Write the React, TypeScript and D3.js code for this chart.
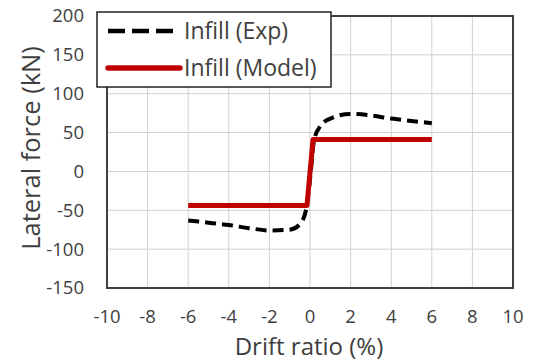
import { useRef, useEffect } from 'react';
import * as d3 from 'd3';

const xTicks = [-10, -8, -6, -4, -2, 0, 2, 4, 6, 8, 10];
const yTicks = [-150, -100, -50, 0, 50, 100, 150, 200];

const expDrift = [-6, -5, -4, -3, -2, -1, -0.5, -0.2, 0, 0.2, 0.5, 1, 2, 3, 4, 5, 6];
const expForce = [-63, -66, -69, -73, -76, -75, -68, -50, -10, 40, 58, 68, 74, 72, 68, 65, 62];

const modelDrift = [-6, -0.15, 0.15, 6];
const modelForce = [-44, -44, 41, 41];

const seriesNames = ['Infill (Exp)', 'Infill (Model)'];

export default function App() {
    const ref = useRef<HTMLDivElement>(null);

    useEffect(() => {
        if (!ref.current) return;
        document.body.style.margin = '0';

        const w = 536;
        const h = 363;
        const font = '"Open Sans", "Liberation Sans", sans-serif';
        d3.select(ref.current).selectAll('*').remove();
        const svg = d3
            .select(ref.current)
            .append('svg')
            .attr('width', w)
            .attr('height', h)
            .style('display', 'block')
            .style('background', '#fff');

        const x = d3.scaleLinear().domain([-10, 10]).range([107, 513]);
        const y = d3.scaleLinear().domain([-150, 200]).range([288, 16]);

        // grid
        const grid = svg.append('g').attr('stroke', '#d0d0d0').attr('stroke-width', 1);
        xTicks.forEach((t) => {
            grid.append('line').attr('x1', x(t)).attr('x2', x(t)).attr('y1', y(200)).attr('y2', y(-150));
        });
        yTicks.forEach((t) => {
            grid.append('line').attr('x1', x(-10)).attr('x2', x(10)).attr('y1', y(t)).attr('y2', y(t));
        });

        // plot border
        svg
            .append('rect')
            .attr('x', x(-10))
            .attr('y', y(200))
            .attr('width', x(10) - x(-10))
            .attr('height', y(-150) - y(200))
            .attr('fill', 'none')
            .attr('stroke', '#404040')
            .attr('stroke-width', 2);

        const expLine = d3
            .line<number>()
            .x((d) => x(expDrift[d]))
            .y((d) => y(expForce[d]))
            .curve(d3.curveMonotoneX);
        const modelLine = d3
            .line<number>()
            .x((d) => x(modelDrift[d]))
            .y((d) => y(modelForce[d]));

        svg
            .append('path')
            .attr('d', expLine(d3.range(expDrift.length)))
            .attr('fill', 'none')
            .attr('stroke', '#000')
            .attr('stroke-width', 4)
            .attr('stroke-dasharray', '11,6');

        svg
            .append('path')
            .attr('d', modelLine(d3.range(modelDrift.length)))
            .attr('fill', 'none')
            .attr('stroke', '#c00000')
            .attr('stroke-width', 5)
            .attr('stroke-linejoin', 'round');

        // tick labels
        svg
            .append('g')
            .selectAll('text')
            .data(xTicks)
            .join('text')
            .attr('x', (d) => x(d))
            .attr('y', 317)
            .attr('dy', '0.35em')
            .attr('text-anchor', 'middle')
            .attr('font-family', font)
            .attr('font-size', 18.5)
            .attr('fill', '#404040')
            .text((d) => d);

        svg
            .append('g')
            .selectAll('text')
            .data(yTicks)
            .join('text')
            .attr('x', 84)
            .attr('y', (d) => y(d))
            .attr('dy', '0.35em')
            .attr('text-anchor', 'end')
            .attr('font-family', font)
            .attr('font-size', 18.5)
            .attr('fill', '#404040')
            .text((d) => d);

        // axis titles
        svg
            .append('text')
            .attr('x', 309)
            .attr('y', 347)
            .attr('dy', '0.35em')
            .attr('text-anchor', 'middle')
            .attr('font-family', font)
            .attr('font-size', 24)
            .attr('fill', '#404040')
            .text('Drift ratio (%)');

        svg
            .append('text')
            .attr('transform', 'translate(31,148) rotate(-90)')
            .attr('dy', '0.35em')
            .attr('text-anchor', 'middle')
            .attr('font-family', font)
            .attr('font-size', 25.5)
            .attr('fill', '#404040')
            .text('Lateral force (kN)');

        // legend
        const lg = svg.append('g');
        lg.append('rect')
            .attr('x', 97)
            .attr('y', 12)
            .attr('width', 234)
            .attr('height', 75)
            .attr('fill', '#fff')
            .attr('stroke', '#222')
            .attr('stroke-width', 1.5);
        lg.append('line')
            .attr('x1', 108)
            .attr('x2', 177)
            .attr('y1', 31)
            .attr('y2', 31)
            .attr('stroke', '#000')
            .attr('stroke-width', 4.5)
            .attr('stroke-dasharray', '17,7');
        lg.append('line')
            .attr('x1', 108)
            .attr('x2', 180)
            .attr('y1', 68)
            .attr('y2', 68)
            .attr('stroke', '#c00000')
            .attr('stroke-width', 5.5)
            .attr('stroke-linecap', 'round');
        lg.selectAll('text.lbl')
            .data(seriesNames)
            .join('text')
            .attr('class', 'lbl')
            .attr('x', 184)
            .attr('y', (_, i) => (i === 0 ? 31 : 68))
            .attr('dy', '0.35em')
            .attr('font-family', font)
            .attr('font-size', 23)
            .attr('fill', '#404040')
            .text((d) => d);
    }, []);

    return <div ref={ref} />;
}
